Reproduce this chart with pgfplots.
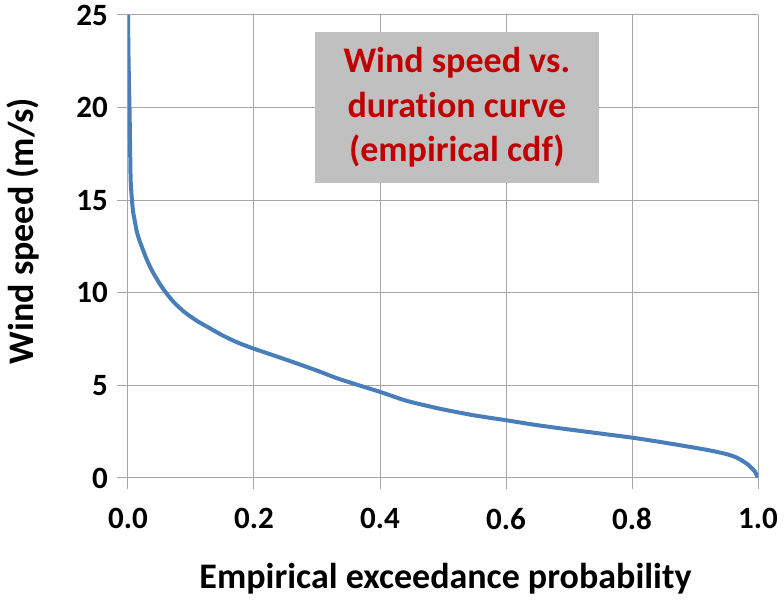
\documentclass[border=0pt]{standalone}
\usepackage{fontspec}
\setmainfont[Ligatures=NoCommon]{Carlito}
\usepackage{pgfplots}
\pgfplotsset{compat=1.18}
\definecolor{curveblue}{HTML}{4A7EBB}
\definecolor{gridgray}{HTML}{A6A6A6}
\definecolor{boxgray}{HTML}{C0C0C0}
\definecolor{titlered}{HTML}{C00000}
\begin{document}
\begin{tikzpicture}[x=1pt,y=1pt]
\begin{axis}[
  at={(0,0)}, anchor=south west,
  scale only axis,
  width=630pt, height=463pt,
  xmin=0, xmax=1, ymin=0, ymax=25,
  xtick={0,0.2,0.4,0.6,0.8,1.0},
  ytick={0,5,10,15,20,25},
  xticklabel style={/pgf/number format/fixed, /pgf/number format/fixed zerofill, /pgf/number format/precision=1},
  /pgf/number format/assume math mode=true,
  ticklabel style={font=\fontsize{31}{31}\selectfont\bfseries, inner sep=0pt},
  xticklabel style={anchor=north, yshift=-19pt},
  yticklabel style={anchor=east, xshift=-9pt},
  axis line style={draw=none},
  tick pos=left,
  tick align=outside,
  major tick length=11pt,
  tick style={gridgray, line width=1pt},
  grid=major,
  grid style={gridgray, line width=1pt},
  xlabel={Empirical exceedance probability},
  ylabel={Wind speed (m/s)},
  label style={font=\fontsize{36}{36}\selectfont\bfseries},
  xlabel style={at={(axis description cs:0.504,-0.238)}, anchor=base, inner sep=0pt},
  ylabel style={at={(axis description cs:-0.166,0.5335)}, anchor=center, rotate=0, inner sep=0pt},
  clip=true,
]
\addplot[curveblue, line width=4pt, line join=round, smooth, tension=0.4] coordinates {
(0,25) (0.0005,23.5) (0.001,22.3) (0.0018,21.0) (0.0025,19.8) (0.0033,18.0)
(0.0042,16.1) (0.0063,15.0) (0.008,14.4) (0.0106,13.9) (0.014,13.3) (0.018,12.85)
(0.024,12.3) (0.030,11.78) (0.038,11.2) (0.048,10.62) (0.055,10.25) (0.065,9.8)
(0.072,9.52) (0.08,9.25) (0.09,8.95) (0.1,8.7) (0.112,8.43) (0.125,8.18)
(0.15,7.7) (0.175,7.3) (0.2,6.98) (0.25,6.4) (0.3,5.8) (0.3365,5.33)
(0.4,4.65) (0.442,4.17) (0.495,3.74) (0.548,3.39) (0.6,3.12) (0.65,2.85)
(0.7,2.62) (0.75,2.4) (0.8,2.18) (0.844,1.95) (0.897,1.65) (0.925,1.48)
(0.95,1.29) (0.965,1.12) (0.977,0.89) (0.985,0.70) (0.99,0.53) (0.995,0.35)
(0.998,0.15) (1.0,0)
};
\node[fill=boxgray, text=titlered, minimum width=284pt, minimum height=151pt,
  inner sep=0pt, align=center, font=\fontsize{36}{44.5}\selectfont\bfseries]
  at (axis cs:0.522,20.0) {Wind speed vs.\\duration curve\\(empirical cdf)};
\end{axis}
\path[use as bounding box] (-128,-123) rectangle (656,478);
\end{tikzpicture}
\end{document}
